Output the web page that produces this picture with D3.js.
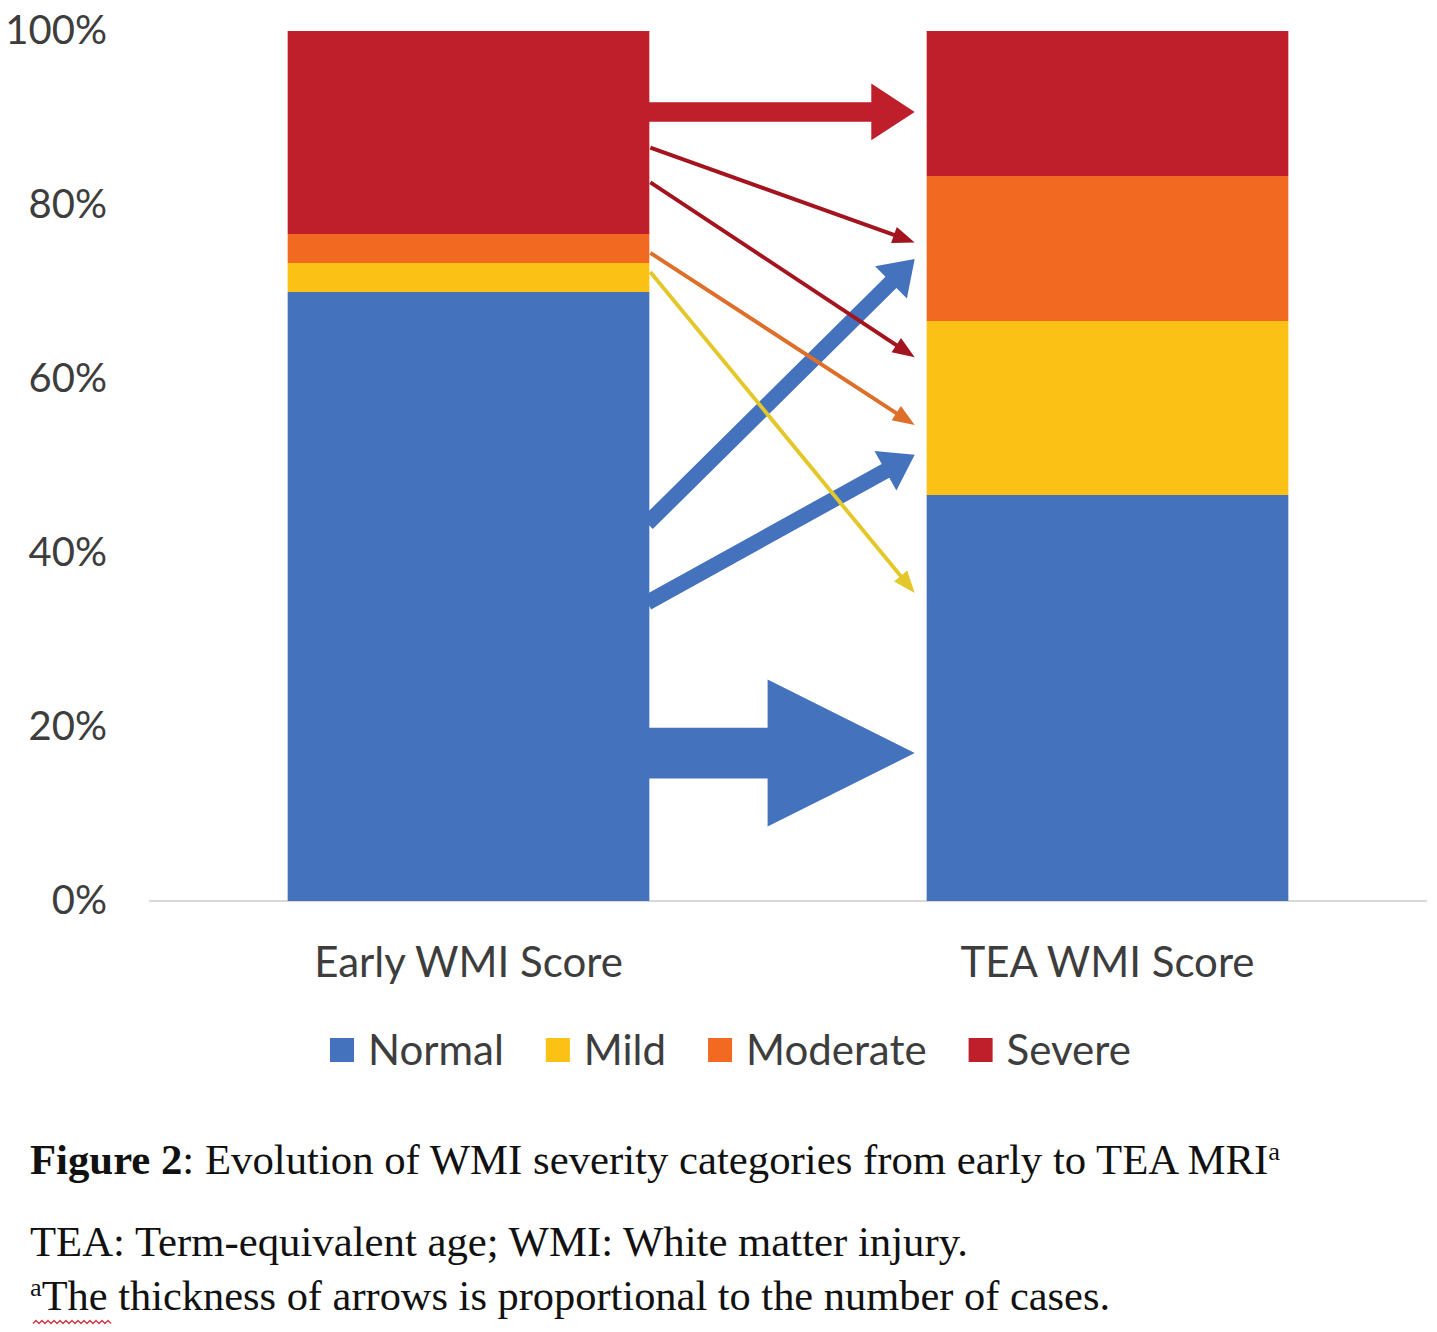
<!DOCTYPE html>
<html>
<head>
<meta charset="utf-8">
<script src="https://cdn.jsdelivr.net/npm/d3@7"></script>
<style>
  html, body { margin: 0; padding: 0; background: #ffffff; }
  svg { display: block; }
</style>
</head>
<body>
<script>
// ---------------- data ----------------
const categories = ["Early WMI Score", "TEA WMI Score"];
const severities = ["Normal", "Mild", "Moderate", "Severe"];
const earlyCases = [21, 1, 1, 7];   // of 30
const teaCases   = [14, 6, 5, 5];   // of 30
const yTicks = [0, 20, 40, 60, 80, 100];

// transitions (arrows): source, target, number of cases, anchor levels (% of axis)
const transFrom     = ["Normal", "Normal", "Severe", "Severe", "Severe", "Moderate", "Mild", "Normal"];
const transTo       = ["Moderate", "Mild", "Severe", "Moderate", "Mild", "Mild", "Normal", "Normal"];
const transCases    = [4, 4, 5, 1, 1, 1, 1, 13];
const transStartPct = [43.4, 34.3, 90.7, 86.6, 82.6, 74.5, 72.3, 17.0];
const transEndPct   = [73.8, 51.3, 90.7, 75.7, 62.5, 54.7, 35.4, 17.0];

const legendLabels = ["Normal", "Mild", "Moderate", "Severe"];
const captionTitleBold = "Figure 2";
const captionTitleRest = ": Evolution of WMI severity categories from early to TEA MRI";
const captionNote1 = "TEA: Term-equivalent age; WMI: White matter injury.";
const captionNote2 = "The thickness of arrows is proportional to the number of cases.";

// ---------------- setup ----------------
const W = 1437, H = 1332;
const colors = { Normal: "#4572bd", Mild: "#fbc114", Moderate: "#f26a21", Severe: "#bf1e2b" };
const thinColors = { Severe: "#a3141f", Moderate: "#de6f2a", Mild: "#e4c72a", Normal: "#4572bd" };
const textColor = "#3d3d3d";
const axisFont = "Lato, 'Open Sans', sans-serif";
const serifFont = "'Liberation Serif', 'DejaVu Serif', serif";

const svg = d3.select("body").append("svg").attr("width", W).attr("height", H);

const y = d3.scaleLinear().domain([0, 100]).range([901, 31]);
const x = d3.scaleBand().domain(categories).range([149, 1427])
  .paddingInner(0.434).paddingOuter(0.217);

const total = d3.sum(earlyCases);
const rows = [earlyCases, teaCases].map((arr, i) => {
  const r = { cat: categories[i] };
  severities.forEach((s, j) => r[s] = arr[j] / total * 100);
  return r;
});
const stacked = d3.stack().keys(severities)(rows);

// baseline axis line
svg.append("line")
  .attr("x1", x.range()[0]).attr("x2", x.range()[1])
  .attr("y1", y(0)).attr("y2", y(0))
  .attr("stroke", "#d9d9d9").attr("stroke-width", 2);

// bars
svg.append("g").selectAll("g").data(stacked).join("g")
  .attr("fill", d => colors[d.key])
  .selectAll("rect").data(d => d).join("rect")
  .attr("x", d => x(d.data.cat))
  .attr("width", x.bandwidth())
  .attr("y", d => y(d[1]))
  .attr("height", d => y(d[0]) - y(d[1]));

// y axis
const yAxis = svg.append("g").attr("transform", "translate(107,0)")
  .call(d3.axisLeft(y).tickValues(yTicks).tickFormat(d => d + "%").tickSize(0).tickPadding(0));
yAxis.select(".domain").remove();
yAxis.selectAll("text").attr("font-family", axisFont).attr("font-size", 40)
  .attr("fill", textColor);

// category labels
svg.append("g").selectAll("text").data(categories).join("text")
  .attr("x", d => x(d) + x.bandwidth() / 2)
  .attr("y", 962).attr("dy", "0.36em")
  .attr("text-anchor", "middle")
  .attr("font-family", axisFont).attr("font-size", 42).attr("fill", textColor)
  .text(d => d);

// arrows
const perCase = 3.9;
function arrowPath(x0, y0, x1, y1, w) {
  const dx = x1 - x0, dy = y1 - y0, len = Math.hypot(dx, dy);
  const ux = dx / len, uy = dy / len, nx = -uy, ny = ux;
  const headW = Math.max(17, w * 2.9);
  const headL = Math.max(22, headW * (0.62 + 0.0075 * w));
  const bx = x1 - ux * headL, by = y1 - uy * headL;
  const p = (px, py, k) => [px + nx * k, py + ny * k];
  const pts = [
    p(x0, y0, w / 2), p(bx, by, w / 2), p(bx, by, headW / 2), [x1, y1],
    p(bx, by, -headW / 2), p(bx, by, -w / 2), p(x0, y0, -w / 2)
  ];
  return "M" + pts.map(q => q[0].toFixed(1) + "," + q[1].toFixed(1)).join("L") + "Z";
}
const xStart = x(categories[0]) + x.bandwidth();
const xTip = x(categories[1]) - 12;
const arrows = transFrom.map((f, i) => ({
  from: f, to: transTo[i], n: transCases[i], s: transStartPct[i], e: transEndPct[i]
}));
// thick arrows first, thin ones on top
arrows.sort((a, b) => b.n - a.n);
svg.append("g").selectAll("path").data(arrows).join("path")
  .attr("d", d => {
    const w = d.n * perCase;
    const x0 = d.n > 1 ? xStart - 2 : xStart + 1;
    return arrowPath(x0, y(d.s), xTip, y(d.e), w);
  })
  .attr("fill", d => d.n > 1 ? colors[d.from] : thinColors[d.from]);

// legend
const legend = svg.append("g");
let lx = 330;
legendLabels.forEach(lab => {
  legend.append("rect").attr("x", lx).attr("y", 1038).attr("width", 24).attr("height", 24)
    .attr("fill", colors[lab]);
  const t = legend.append("text").attr("x", lx + 38).attr("y", 1050).attr("dy", "0.36em")
    .attr("font-family", axisFont).attr("font-size", 42).attr("fill", textColor).text(lab);
  lx = lx + 38 + t.node().getComputedTextLength() + 42;
});

// caption
const cap = svg.append("g").attr("font-family", serifFont).attr("fill", "#111");
const t1 = cap.append("text").attr("x", 30).attr("y", 1174).attr("font-size", 42)
  .attr("textLength", 1250).attr("lengthAdjust", "spacingAndGlyphs");
t1.append("tspan").attr("font-weight", "bold").text(captionTitleBold);
t1.append("tspan").text(captionTitleRest);
t1.append("tspan").attr("font-size", 26).attr("dy", -14).text("a");

cap.append("text").attr("x", 30).attr("y", 1256).attr("font-size", 42)
  .attr("textLength", 938).attr("lengthAdjust", "spacingAndGlyphs")
  .text(captionNote1);

const t3 = cap.append("text").attr("x", 30).attr("y", 1310).attr("font-size", 42)
  .attr("textLength", 1080).attr("lengthAdjust", "spacingAndGlyphs");
t3.append("tspan").attr("font-size", 26).attr("dy", -14).text("a");
t3.append("tspan").attr("dy", 14).text(captionNote2);

// spell-check squiggle under "The"
const sq = d3.range(33, 114, 3).map((px, i) => [px, 1322 + (i % 2 ? -1.6 : 1.6)]);
svg.append("path").attr("d", d3.line()(sq)).attr("fill", "none")
  .attr("stroke", "#d0404a").attr("stroke-width", 1.4);
</script>
</body>
</html>
